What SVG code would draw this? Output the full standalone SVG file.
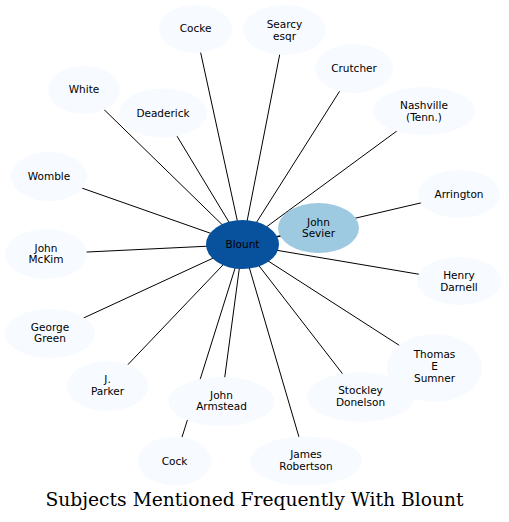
<svg xmlns="http://www.w3.org/2000/svg" width="509" height="522" viewBox="0 0 509 522">
<style>
.n ellipse{fill:#f7fbff;stroke:none}
text{font-family:"DejaVu Sans",sans-serif;font-size:10.5px;text-anchor:middle;fill:#000}
.e line{stroke:#000;stroke-width:1}
.title{font-family:"DejaVu Serif",serif;font-size:18.7px}
</style>
<rect width="509" height="522" fill="#fff"/>
<g class="e" id="edges">
<line x1="242.5" y1="244.5" x2="195.5" y2="29"/>
<line x1="242.5" y1="244.5" x2="284.5" y2="30"/>
<line x1="242.5" y1="244.5" x2="354" y2="68.5"/>
<line x1="242.5" y1="244.5" x2="424" y2="111"/>
<line x1="242.5" y1="244.5" x2="84" y2="90"/>
<line x1="242.5" y1="244.5" x2="163" y2="113"/>
<line x1="242.5" y1="244.5" x2="49" y2="176.5"/>
<line x1="242.5" y1="244.5" x2="46" y2="254"/>
<line x1="242.5" y1="244.5" x2="318.5" y2="228"/>
<line x1="242.5" y1="244.5" x2="459" y2="194"/>
<line x1="242.5" y1="244.5" x2="459" y2="281"/>
<line x1="242.5" y1="244.5" x2="50" y2="333.5"/>
<line x1="242.5" y1="244.5" x2="107.5" y2="386"/>
<line x1="242.5" y1="244.5" x2="221.5" y2="401.5"/>
<line x1="242.5" y1="244.5" x2="174.5" y2="461"/>
<line x1="242.5" y1="244.5" x2="306" y2="461"/>
<line x1="242.5" y1="244.5" x2="360.5" y2="397"/>
<line x1="242.5" y1="244.5" x2="434.5" y2="368"/>
</g>
<g class="n" id="cocke"><ellipse cx="195.5" cy="29" rx="36.5" ry="24"/><text x="195.5" y="32">Cocke</text></g>
<g class="n" id="searcy"><ellipse cx="284.5" cy="30" rx="41.5" ry="25"/><text x="284.5" y="28">Searcy</text><text x="284.5" y="39.6">esqr</text></g>
<g class="n" id="crutcher"><ellipse cx="354" cy="68.5" rx="39" ry="24.5"/><text x="354" y="72">Crutcher</text></g>
<g class="n" id="nashville"><ellipse cx="424" cy="111" rx="51" ry="24"/><text x="424" y="109">Nashville</text><text x="424" y="120.6">(Tenn.)</text></g>
<g class="n" id="white"><ellipse cx="84" cy="90" rx="36" ry="24"/><text x="84" y="93">White</text></g>
<g class="n" id="deaderick"><ellipse cx="163" cy="113" rx="44" ry="24.5"/><text x="163" y="116.5">Deaderick</text></g>
<g class="n" id="womble"><ellipse cx="49" cy="176.5" rx="38" ry="24.5"/><text x="49" y="180">Womble</text></g>
<g class="n" id="mckim"><ellipse cx="46" cy="254" rx="41" ry="25"/><text x="46" y="251.5">John</text><text x="46" y="263.2">McKim</text></g>
<g class="n" id="arrington"><ellipse cx="459" cy="194" rx="41" ry="24"/><text x="459" y="197.5">Arrington</text></g>
<g class="n" id="darnell"><ellipse cx="459" cy="281" rx="42" ry="24"/><text x="459" y="279">Henry</text><text x="459" y="290.6">Darnell</text></g>
<g class="n" id="green"><ellipse cx="50" cy="333.5" rx="45" ry="24.5"/><text x="50" y="330.5">George</text><text x="50" y="342.2">Green</text></g>
<g class="n" id="parker"><ellipse cx="107.5" cy="386" rx="40.5" ry="25"/><text x="107.5" y="383">J.</text><text x="107.5" y="394.7">Parker</text></g>
<g class="n" id="cock"><ellipse cx="174.5" cy="461" rx="36.5" ry="24.5"/><text x="174.5" y="464.5">Cock</text></g>
<g class="n" id="armstead"><ellipse cx="221.5" cy="401.5" rx="53" ry="24.5"/><text x="221.5" y="398.5">John</text><text x="221.5" y="410.2">Armstead</text></g>
<g class="n" id="robertson"><ellipse cx="306" cy="461" rx="56" ry="24.5"/><text x="306" y="458">James</text><text x="306" y="469.7">Robertson</text></g>
<g class="n" id="sumner"><ellipse cx="434.5" cy="368" rx="47.5" ry="34"/><text x="434.5" y="358">Thomas</text><text x="434.5" y="370">E</text><text x="434.5" y="382">Sumner</text></g>
<g class="n" id="donelson"><ellipse cx="360.5" cy="397" rx="53.5" ry="25"/><text x="360.5" y="394">Stockley</text><text x="360.5" y="405.7">Donelson</text></g>
<g id="sevier"><ellipse cx="318.5" cy="228" rx="40.5" ry="25" fill="#9ecae1"/><text x="318.5" y="225.5">John</text><text x="318.5" y="237">Sevier</text></g>
<g id="blount"><ellipse cx="242.5" cy="244.5" rx="36.5" ry="24.5" fill="#08519c"/><text x="242.5" y="248">Blount</text></g>
<text class="title" x="254.5" y="506">Subjects Mentioned Frequently With Blount</text>
</svg>
